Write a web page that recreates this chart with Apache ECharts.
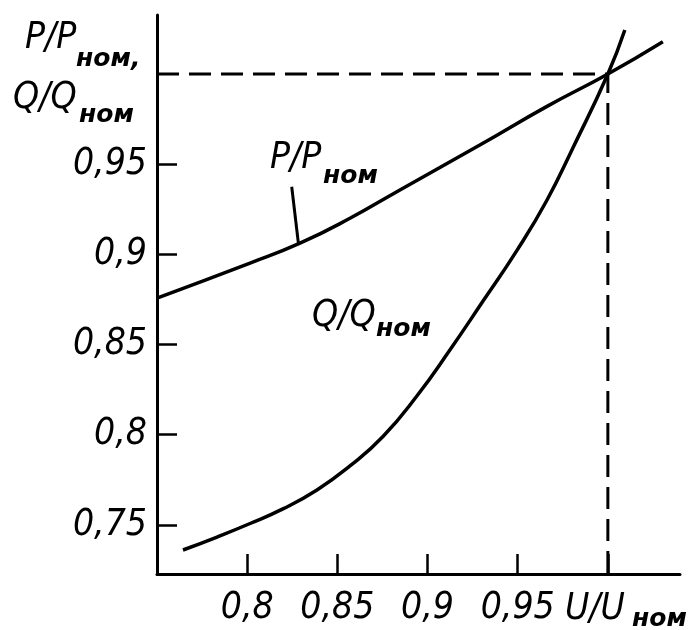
<!DOCTYPE html>
<html>
<head>
<meta charset="utf-8">
<script src="https://cdn.jsdelivr.net/npm/echarts@6/dist/echarts.min.js"></script>
<style>
html,body{margin:0;padding:0;background:#fff;}
#chart{width:697px;height:630px;}
</style>
</head>
<body>
<div id="chart"></div>
<script>
// ---- data ----
const pU = [0.75, 0.8016, 0.8293, 0.857, 0.8847, 0.929, 0.966, 1.0, 1.0305];
const pValues = [0.8758, 0.8952, 0.9062, 0.92, 0.9357, 0.9606, 0.9819, 1.0, 1.0179];
const qU = [0.7644, 0.7833, 0.8016, 0.8198, 0.8387, 0.857, 0.8753, 0.8941, 0.9124, 0.9307, 0.9496, 0.9662, 0.9806, 1.0, 1.0094];
const qValues = [0.7361, 0.7433, 0.7508, 0.7589, 0.7694, 0.7827, 0.7990, 0.8215, 0.8470, 0.8740, 0.9022, 0.9300, 0.9590, 1.0, 1.0244];
const refU = [0.75, 1.0, 1.0];
const refV = [1.0, 1.0, 0.7228];
const leaderU = [0.8247, 0.8284];
const leaderV = [0.9375, 0.9061];
const xTicks = [0.8, 0.85, 0.9, 0.95, 1.0];
const xTickLabels = ['0,8', '0,85', '0,9', '0,95', ''];
const yTicks = [0.75, 0.8, 0.85, 0.9, 0.95];
const yTickLabels = ['0,75', '0,8', '0,85', '0,9', '0,95'];

const zip = (a, b) => a.map((v, i) => [v, b[i]]);
const labelFor = (ticks, labels) => v => {
  const i = ticks.findIndex(t => Math.abs(t - v) < 1e-9);
  return i >= 0 ? labels[i] : '';
};

const MAIN_FONT = "'DejaVu Sans Condensed', 'DejaVu Sans', sans-serif";
const SUB_FONT = "'DejaVu Sans', sans-serif";
const mainStyle = {fontSize: 37, fontFamily: MAIN_FONT, fontStyle: 'italic', fill: '#000', align: 'left', verticalAlign: 'middle'};
const subStyle = {fontSize: 25, fontFamily: SUB_FONT, fontStyle: 'italic', fontWeight: 'bold', fill: '#000', align: 'left', verticalAlign: 'middle'};
function txt(text, x, y, st) {
  return {type: 'text', x: x, y: y, silent: true, style: Object.assign({text: text}, st)};
}

const chart = echarts.init(document.getElementById('chart'), null, {renderer: 'canvas'});
const lineStyleBlack = {color: '#000', width: 3.5};
chart.setOption({
  backgroundColor: '#fff',
  animation: false,
  grid: {left: 157, right: 17, top: 15, bottom: 56},
  xAxis: {
    type: 'value', min: 0.75, max: 1.04,
    axisLine: {onZero: false, lineStyle: {color: '#000', width: 3}},
    axisTick: {inside: true, length: 20, lineStyle: {color: '#000', width: 2.5}, customValues: xTicks},
    axisLabel: {customValues: xTicks, formatter: labelFor(xTicks, xTickLabels), margin: 16,
      color: '#000', fontSize: 37, fontFamily: MAIN_FONT, fontStyle: 'italic'},
    splitLine: {show: false}
  },
  yAxis: {
    type: 'value', min: 0.7228, max: 1.0327,
    axisLine: {onZero: false, lineStyle: {color: '#000', width: 3}},
    axisTick: {inside: true, length: 20, lineStyle: {color: '#000', width: 2.5}, customValues: yTicks},
    axisLabel: {customValues: yTicks, formatter: labelFor(yTicks, yTickLabels), margin: 10,
      color: '#000', fontSize: 37, fontFamily: MAIN_FONT, fontStyle: 'italic'},
    splitLine: {show: false}
  },
  series: [
    {name: 'ref', type: 'line', data: zip(refU, refV), symbol: 'none',
      lineStyle: {color: '#000', width: 3, type: [22, 10]}},
    {name: 'P/Pном', type: 'line', data: zip(pU, pValues), symbol: 'none', smooth: 0.5, lineStyle: lineStyleBlack},
    {name: 'Q/Qном', type: 'line', data: zip(qU, qValues), symbol: 'none', smooth: 0.5, lineStyle: lineStyleBlack},
    {name: 'leader', type: 'line', data: zip(leaderU, leaderV), symbol: 'none', lineStyle: {color: '#000', width: 3}}
  ],
  graphic: [
    txt('P/P', 25, 38, mainStyle), txt('ном,', 76, 59, subStyle),
    txt('Q/Q', 13, 98, mainStyle), txt('ном', 79, 115, subStyle),
    txt('P/P', 270, 158, mainStyle), txt('ном', 323, 176, subStyle),
    txt('Q/Q', 312, 316, mainStyle), txt('ном', 376, 329, subStyle),
    txt('U/U', 565, 609, mainStyle), txt('ном', 632, 619, subStyle)
  ]
});
</script>
</body>
</html>
